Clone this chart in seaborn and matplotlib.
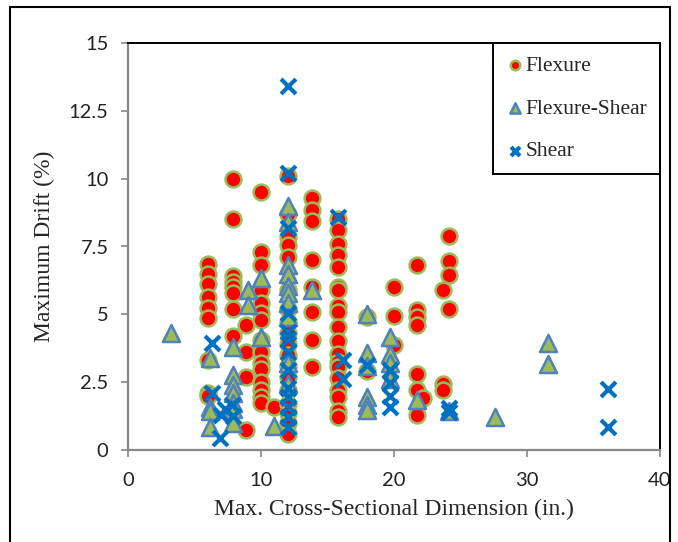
import numpy as np
import pandas as pd
import matplotlib
matplotlib.use("Agg")
import matplotlib.pyplot as plt
from matplotlib.patches import Rectangle
import seaborn as sns

# Flexure (red circles)
flex_x = [6.0] * 9 + [7.9] * 8 + [8.9] * 4 + [10.0] * 15 + [11.0] + [12.0] * 18 \
    + [13.8] * 8 + [15.8] * 19 + [18.0] * 2 + [20.0] * 3 + [21.7] * 7 + [22.2] \
    + [23.7] * 3 + [24.1] * 4
flex_y = [6.85, 6.5, 6.1, 5.65, 5.25, 4.85, 3.3, 2.1, 2.0,
          10.0, 8.5, 6.4, 6.2, 6.0, 5.8, 5.2, 4.2,
          4.6, 3.6, 2.7, 0.75,
          9.5, 7.3, 6.8, 5.9, 5.4, 5.05, 4.8, 4.05, 3.6, 3.2, 3.0, 2.5, 2.2, 1.95, 1.75,
          1.6,
          10.1, 8.7, 7.85, 7.55, 7.1, 5.9, 5.2, 4.7, 4.3, 3.9, 3.5, 3.1, 2.7, 2.2, 1.7, 1.35, 1.0, 0.6,
          9.3, 8.85, 8.45, 7.0, 6.0, 5.1, 4.05, 3.07,
          8.5, 8.1, 7.6, 7.2, 6.75, 6.0, 5.9, 5.3, 5.1, 4.55, 4.0, 3.55, 3.25, 3.05, 2.65, 2.2, 1.95, 1.45, 1.2,
          4.9, 2.9,
          6.0, 4.95, 3.87,
          6.8, 5.15, 4.9, 4.6, 2.8, 2.2, 1.3,
          1.9,
          5.9, 2.45, 2.2,
          7.9, 6.95, 6.45, 5.2]

# Flexure-Shear (green triangles)
fs_x = [3.2] + [6.2] * 4 + [7.9] * 7 + [9.0] * 2 + [10.0] * 2 + [11.0] + [12.0] * 10 \
    + [13.8] + [18.0] * 6 + [19.7] * 4 + [21.7] + [24.1] + [27.6] + [31.6] * 2
fs_y = [4.3,
        3.4, 1.6, 1.45, 0.85,
        3.8, 2.75, 2.4, 2.1, 1.75, 1.5, 1.0,
        5.9, 5.35,
        6.35, 4.15,
        0.88,
        9.0, 8.4, 6.8, 6.5, 6.05, 5.8, 5.4, 4.9, 3.2, 2.45,
        5.9,
        5.0, 3.57, 3.1, 1.95, 1.65, 1.47,
        4.15, 3.55, 3.2, 2.6,
        1.85,
        1.45,
        1.2,
        3.93, 3.17]

# Shear (blue crosses)
sh_x = [6.3, 6.3, 7.0, 6.9, 7.3, 7.8, 7.9] + [12.0] * 13 + [15.8, 16.2, 16.2] \
    + [18.0] + [19.7] * 4 + [24.1] * 2 + [36.1] * 2
sh_y = [3.95, 2.1, 1.3, 0.45, 1.5, 1.65, 1.25,
        13.4, 10.2, 8.2, 5.05, 4.35, 4.1, 3.6, 2.95, 2.3, 1.95, 1.6, 1.2, 0.85,
        8.6, 3.3, 2.6,
        3.15,
        2.93, 2.47, 1.98, 1.6,
        1.55, 1.4,
        2.25, 0.85]

sns.set_style("white")
plt.rcParams['font.family'] = ['Liberation Serif', 'DejaVu Serif']

fig = plt.figure(figsize=(6.78, 5.42), dpi=100)
ax = fig.add_axes([128 / 678, 92 / 542, 532 / 678, 407 / 542])

df_f = pd.DataFrame({"x": flex_x, "y": flex_y})
df_fs = pd.DataFrame({"x": fs_x, "y": fs_y})
df_s = pd.DataFrame({"x": sh_x, "y": sh_y})

sns.scatterplot(data=df_f, x="x", y="y", ax=ax, marker="o", s=130,
                color="#FF0000", edgecolor="#9BBB59", linewidth=1.8,
                label="Flexure", zorder=3)
sns.scatterplot(data=df_fs, x="x", y="y", ax=ax, marker="^", s=150,
                color="#9BBB59", edgecolor="#4F81BD", linewidth=1.8,
                label="Flexure-Shear", zorder=4)
sns.scatterplot(data=df_s, x="x", y="y", ax=ax, marker="x", s=115,
                color="#0070C0", linewidth=3.0,
                label="Shear", zorder=5)

ax.set_xlim(0, 40)
ax.set_ylim(0, 15)
ax.set_xticks([0, 10, 20, 30, 40])
ax.set_yticks([0, 2.5, 5, 7.5, 10, 12.5, 15])
ax.set_yticklabels(["0", "2.5", "5", "7.5", "10", "12.5", "15"])
for lab in ax.get_xticklabels() + ax.get_yticklabels():
    lab.set_fontfamily("Lato")
    lab.set_fontsize(14.5)
    lab.set_color("#222222")
ax.tick_params(axis="x", direction="out", length=5, width=1.2, color="#888888", pad=11)
ax.tick_params(axis="y", direction="out", length=5, width=1.2, color="#888888", pad=9)
ax.tick_params(bottom=True, left=True)

ax.set_xlabel("Max. Cross-Sectional Dimension (in.)", fontsize=17, labelpad=7)
ax.set_ylabel("Maximum Drift (%)", fontsize=17, labelpad=10)

for side in ["left", "bottom"]:
    ax.spines[side].set_color("#888888")
    ax.spines[side].set_linewidth(1.6)
for side in ["top", "right"]:
    ax.spines[side].set_color("black")
    ax.spines[side].set_linewidth(1.4)

leg = ax.legend(loc="upper right", frameon=True, fancybox=False, framealpha=1,
                fontsize=15.5, markerscale=0.6, handletextpad=0.1,
                handlelength=0.8, labelspacing=1.05, borderpad=0.6,
                borderaxespad=0)
leg.get_frame().set_edgecolor("black")
leg.get_frame().set_linewidth(1.4)

# outer chart border
fig.patches.append(Rectangle((10 / 678, -0.05), 660 / 678, 1.05 - 7 / 542,
                             transform=fig.transFigure, fill=False,
                             edgecolor="black", linewidth=1.5))

fig.savefig("out.png", dpi=100)
